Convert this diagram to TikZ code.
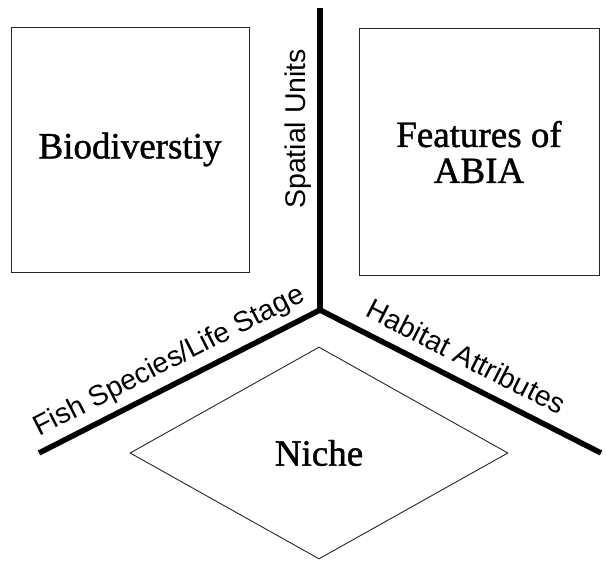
\documentclass[tikz,border=0pt]{standalone}
\usepackage{fontspec}
\setmainfont{Liberation Serif}[FakeBold=1.2]
\newfontfamily\axisfont{Liberation Sans}
\usetikzlibrary{shapes.geometric}
\begin{document}
\begin{tikzpicture}[x=1pt,y=-1pt,
  catbox/.style={draw=black!85, line width=0.9pt, inner sep=0pt,
    font=\fontsize{37}{36}\selectfont, align=center},
  axisline/.style={line width=5.5pt},
  axislabel/.style={font=\axisfont\fontsize{28.5}{28.5}\selectfont,
    sloped, above=6pt, inner sep=0pt, text depth=6pt}]
\useasboundingbox (0,0) rectangle (606,563);
% boxes
\node[catbox, rectangle, minimum width=238pt, minimum height=245pt]
  (bio) at (130,149.5) {Biodiverstiy};
\node[catbox, rectangle, minimum width=240pt, minimum height=247pt]
  (feat) at (479,152) {Features of\\ABIA};
\node[catbox, diamond, minimum width=378pt, minimum height=212pt]
  (niche) at (319,453) {Niche};
% axes
\coordinate (c) at (320,310);
\coordinate (top) at (320,8);
\coordinate (left) at (39,453);
\coordinate (right) at (601,453);
\draw[axisline] (c) -- node[axislabel, pos=0.6] {Spatial Units} (top);
\draw[axisline, line join=miter] (left) -- node[axislabel, pos=0.5] {Fish Species/Life Stage} (c)
  -- node[axislabel, pos=0.48] {Habitat Attributes} (right);
\end{tikzpicture}
\end{document}
